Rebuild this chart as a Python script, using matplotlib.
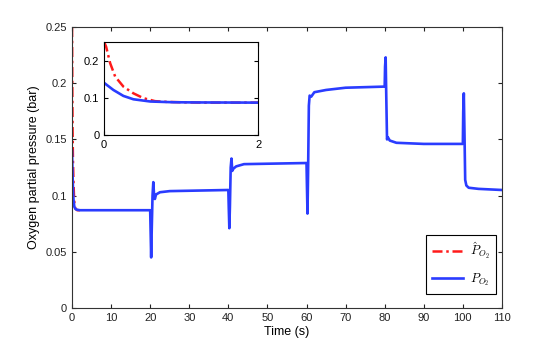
import matplotlib
matplotlib.use('Agg')
import matplotlib.pyplot as plt
import numpy as np

plt.rc('font', family='Liberation Sans', size=8)
plt.rc('mathtext', fontset='cm')

# measured oxygen partial pressure (bar)
t_meas = [0, 0.12, 0.25, 0.38, 0.6, 0.9, 1.2, 2,
          20, 20.1, 20.25, 20.4, 20.6, 20.8, 21.0, 21.2, 21.5, 22.5, 25,
          40, 40.1, 40.25, 40.4, 40.6, 40.8, 41.0, 41.3, 42, 44,
          60, 60.1, 60.25, 60.4, 60.6, 60.8, 61.2, 62, 65, 70,
          80, 80.1, 80.25, 80.4, 80.6, 80.8, 81.3, 83, 90,
          100, 100.1, 100.25, 100.4, 100.6, 100.9, 101.5, 104, 110]
p_meas = [0.140, 0.121, 0.105, 0.096, 0.090, 0.088, 0.0875, 0.087,
          0.087, 0.070, 0.045, 0.070, 0.100, 0.112, 0.100, 0.097, 0.101, 0.103, 0.104,
          0.105, 0.090, 0.071, 0.090, 0.125, 0.133, 0.122, 0.124, 0.126, 0.128,
          0.129, 0.110, 0.084, 0.120, 0.180, 0.189, 0.188, 0.192, 0.194, 0.196,
          0.197, 0.215, 0.223, 0.190, 0.150, 0.152, 0.149, 0.147, 0.146,
          0.146, 0.175, 0.191, 0.160, 0.114, 0.109, 0.107, 0.106, 0.105]

# estimated value (initial transient)
t_est = [0, 0.026, 0.078, 0.143, 0.25, 0.38, 0.51, 0.66, 0.81, 1.0, 1.3, 2]
p_est = [0.25, 0.237, 0.193, 0.157, 0.130, 0.112, 0.099, 0.091, 0.089, 0.088, 0.087, 0.087]

fig = plt.figure(figsize=(5.54, 3.47), dpi=100)
ax = fig.add_axes([0.130, 0.1124, 0.776, 0.8097])

dashdot = (0, (4, 1.5, 1, 1.5))
ax.plot(t_est, p_est, linestyle=dashdot, color='#ff1a1a', linewidth=1.8, label=r'$\hat{P}_{O_2}$')
ax.plot(t_meas, p_meas, linestyle='-', color='#2a3cff', linewidth=1.9, label=r'$P_{O_2}$')

ax.set_xlim(0, 110)
ax.set_ylim(0, 0.25)
ax.set_xticks(np.arange(0, 111, 10))
ax.set_yticks([0, 0.05, 0.1, 0.15, 0.2, 0.25])
ax.set_yticklabels(['0', '0.05', '0.1', '0.15', '0.2', '0.25'])
ax.tick_params(direction='in', top=True, right=True, length=3, colors='#222222')
for s in ax.spines.values():
    s.set_color('#333333')
ax.set_xlabel('Time (s)', fontsize=9, labelpad=2)
ax.set_ylabel('Oxygen partial pressure (bar)', fontsize=9, labelpad=4)

leg = ax.legend(loc='lower right', bbox_to_anchor=(0.986, 0.05), fontsize=9,
                fancybox=False, edgecolor='black', framealpha=1,
                handlelength=2.5, handletextpad=0.5, borderpad=0.5,
                labelspacing=0.8, borderaxespad=0)
leg.get_frame().set_linewidth(0.8)

# inset: zoom on the first 2 s
axin = fig.add_axes([0.188, 0.611, 0.278, 0.268])
axin.plot(t_est, p_est, linestyle=dashdot, color='#ff1a1a', linewidth=1.8)
axin.plot(t_meas, p_meas, linestyle='-', color='#2a3cff', linewidth=1.9)
axin.set_xlim(0, 2)
axin.set_ylim(0, 0.25)
axin.set_xticks([0, 2])
axin.set_yticks([0, 0.1, 0.2])
axin.set_yticklabels(['0', '0.1', '0.2'])
axin.tick_params(direction='in', top=True, right=True, length=3)

fig.savefig('out.png', dpi=100)
